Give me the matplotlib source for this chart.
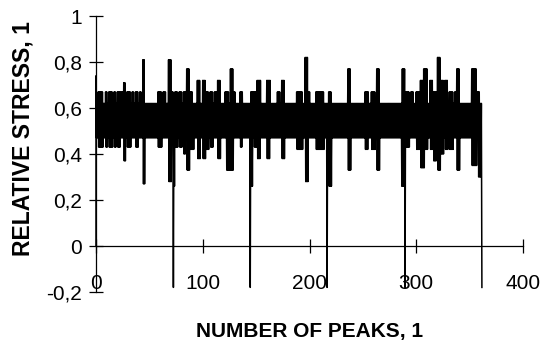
import matplotlib
matplotlib.use("Agg")
import matplotlib.pyplot as plt
import numpy as np

# ---- data ----
n_peaks = 362
base_peak = 0.62
base_valley = 0.47
start_value = 0.0
first_peak = 0.74

# raised peaks: (first index, last index, level)
up_start = [2, 9, 12, 17, 20, 23, 26, 29, 34, 37, 41, 44,
            58, 63, 68, 71, 74, 78, 82, 85, 88, 95, 100, 103, 107, 111, 114,
            121, 126, 129, 135, 145, 148, 151, 160, 170, 174,
            188, 196, 199, 206, 211, 218, 236,
            252, 258, 263, 287, 290, 295, 300, 304,
            307, 313, 316, 320, 323, 327, 331, 336, 338, 352, 357]
up_end = [6, 10, 15, 18, 22, 25, 27, 32, 35, 39, 42, 45,
          61, 65, 70, 72, 76, 80, 84, 87, 90, 97, 102, 105, 109, 113, 116,
          124, 128, 130, 137, 147, 150, 154, 163, 172, 176,
          193, 198, 200, 210, 213, 220, 238,
          255, 261, 265, 289, 293, 297, 303, 306,
          310, 315, 319, 322, 325, 329, 334, 337, 340, 356, 359]
up_level = [0.67, 0.67, 0.67, 0.67, 0.67, 0.67, 0.71, 0.67, 0.67, 0.67, 0.67, 0.81,
            0.67, 0.67, 0.81, 0.67, 0.67, 0.67, 0.67, 0.77, 0.67, 0.72, 0.72, 0.67, 0.67, 0.67, 0.72,
            0.67, 0.77, 0.67, 0.67, 0.67, 0.67, 0.72, 0.72, 0.67, 0.72,
            0.67, 0.82, 0.67, 0.67, 0.67, 0.67, 0.77,
            0.67, 0.67, 0.77, 0.77, 0.67, 0.67, 0.67, 0.72,
            0.77, 0.72, 0.67, 0.82, 0.72, 0.72, 0.67, 0.67, 0.77, 0.77, 0.67]

# lowered valleys: (first index, last index, level)
down_start = [2, 9, 12, 17, 20, 26, 29, 37, 44,
              58, 68, 73, 74, 78, 82, 85, 88, 95, 100, 103, 107, 114,
              122, 135, 145, 148, 151, 160, 174,
              188, 196, 206, 218, 236,
              252, 258, 263, 286, 290, 300,
              304, 308, 313, 316, 320, 323, 327, 331, 338, 352, 358]
down_end = [6, 10, 15, 18, 22, 27, 32, 39, 45,
            61, 70, 73, 76, 80, 83, 87, 91, 97, 102, 105, 109, 116,
            128, 136, 146, 150, 153, 162, 176,
            193, 198, 213, 220, 238,
            254, 261, 265, 288, 293, 303,
            307, 310, 315, 318, 322, 325, 329, 334, 340, 356, 360]
down_level = [0.43, 0.43, 0.43, 0.43, 0.43, 0.37, 0.43, 0.43, 0.27,
              0.43, 0.28, 0.26, 0.43, 0.43, 0.40, 0.33, 0.42, 0.38, 0.38, 0.42, 0.43, 0.38,
              0.33, 0.43, 0.26, 0.43, 0.38, 0.38, 0.38,
              0.42, 0.28, 0.42, 0.26, 0.33,
              0.42, 0.42, 0.33, 0.26, 0.43, 0.42,
              0.34, 0.42, 0.42, 0.37, 0.33, 0.40, 0.42, 0.42, 0.33, 0.35, 0.30]

drop_index = [72, 144, 216, 289, 361]
drop_level = -0.18

y_ticks = [-0.2, 0, 0.2, 0.4, 0.6, 0.8, 1]
y_tick_labels = ["-0,2", "0", "0,2", "0,4", "0,6", "0,8", "1"]
x_ticks = [0, 100, 200, 300, 400]
x_tick_labels = ["0", "100", "200", "300", "400"]

# ---- build the peak / valley sequence ----
peaks = np.full(n_peaks, base_peak)
valleys = np.full(n_peaks, base_valley)
peaks[0] = first_peak
for s, e, v in zip(up_start, up_end, up_level):
    peaks[s:e + 1] = v
for s, e, v in zip(down_start, down_end, down_level):
    valleys[s:e + 1] = v
for d in drop_index:
    valleys[d] = drop_level

xs = [0.0]
ys = [start_value]
for i in range(n_peaks):
    xs += [i, i + 0.5]
    ys += [peaks[i], valleys[i]]

# ---- figure ----
fig = plt.figure(figsize=(5.46, 3.47), dpi=100)
ax = fig.add_axes([96 / 546, 1 - 292 / 347, 427 / 546, 276 / 347])
ax.plot(xs, ys, color="black", linewidth=1.1, clip_on=False)

ax.set_xlim(0, 400)
ax.set_ylim(-0.2, 1)
ax.spines["top"].set_visible(False)
ax.spines["right"].set_visible(False)
ax.spines["bottom"].set_position(("data", 0))
for s in ("left", "bottom"):
    ax.spines[s].set_linewidth(0.9)

font = ["Liberation Sans", "DejaVu Sans"]
ax.set_yticks(y_ticks)
ax.set_yticklabels(y_tick_labels, family=font, fontsize=15)
ax.set_xticks(x_ticks)
ax.set_xticklabels(x_tick_labels, family=font, fontsize=15)
ax.tick_params(axis="y", direction="inout", length=10, width=0.9, pad=5)
ax.tick_params(axis="x", direction="inout", length=10, width=0.9, pad=15)

fig.text(309.5 / 546, 1 - 331 / 347, "NUMBER OF PEAKS, 1", ha="center", va="center",
         fontsize=15, fontweight="bold", family=font)
fig.text(23 / 546, 1 - 139 / 347, "RELATIVE STRESS, 1", ha="center", va="center",
         rotation=90, fontsize=16.5, fontweight="bold", family=font)

fig.savefig("out.png", dpi=100)
